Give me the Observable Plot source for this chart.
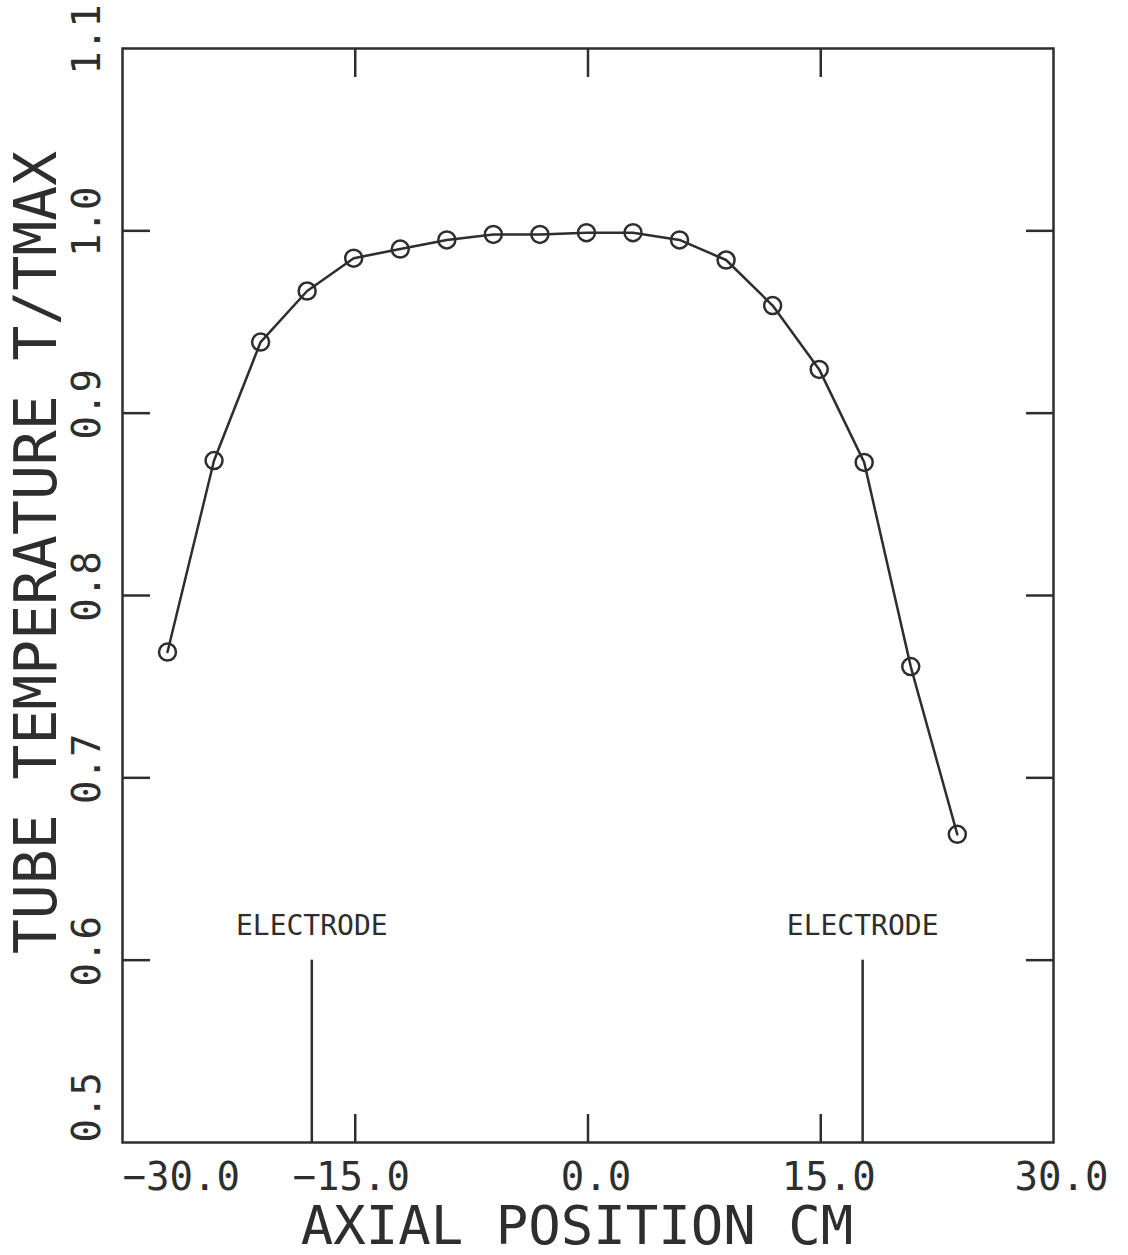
<!DOCTYPE html>
<html>
<head>
<meta charset="utf-8">
<script src="https://cdn.jsdelivr.net/npm/d3@7"></script>
<script src="https://cdn.jsdelivr.net/npm/@observablehq/plot@0.6"></script>
<style>
  html, body { margin: 0; padding: 0; background: #ffffff; }
  #chart svg { display: block; }
</style>
</head>
<body>
<div id="chart"></div>
<script>
// ---- data ----
const axialPos = [-27.1, -24.1, -21.1, -18.1, -15.1, -12.1, -9.1, -6.1, -3.1, -0.1, 2.9, 5.9, 8.9, 11.9, 14.9, 17.8, 20.8, 23.8];
const tubeTemp = [0.769, 0.874, 0.939, 0.967, 0.985, 0.990, 0.995, 0.998, 0.998, 0.999, 0.999, 0.995, 0.984, 0.959, 0.924, 0.873, 0.761, 0.669];
const xTickValues = [-30, -15, 0, 15, 30];
const yTickValues = [0.5, 0.6, 0.7, 0.8, 0.9, 1.0, 1.1];
const electrodePos = [-17.8, 17.7];
const electrodeBottom = 0.5;
const electrodeTop = 0.6;
const electrodeLabel = "ELECTRODE";
const xTitle = "AXIAL POSITION CM";
const yTitle = "TUBE TEMPERATURE T/TMAX";

const points = axialPos.map((x, i) => ({x, y: tubeTemp[i]}));
const electrodes = electrodePos.map(x => ({x, y1: electrodeBottom, y2: electrodeTop}));
const innerX = xTickValues.slice(1, -1);
const innerY = yTickValues.slice(1, -1);
const fmt = d => (d < 0 ? "\u2212" + Math.abs(d).toFixed(1) : d.toFixed(1));

const ink = "#2e2e2e";
const font = "DejaVu Sans Mono";
const sw = 2.5;

const chart = Plot.plot({
  width: 1128,
  height: 1255,
  marginTop: 48,
  marginRight: 75,
  marginBottom: 113,
  marginLeft: 122,
  x: {domain: [-30, 30], axis: null},
  y: {domain: [0.5, 1.1], axis: null},
  style: {fontFamily: font, color: ink, background: "#ffffff"},
  marks: [
    Plot.frame({stroke: ink, strokeWidth: sw}),
    // inward ticks on all four sides
    Plot.axisX(innerX, {anchor: "bottom", tickSize: -28, tickFormat: () => null, label: null, stroke: ink, strokeWidth: sw}),
    Plot.axisX(innerX, {anchor: "top", tickSize: -28, tickFormat: () => null, label: null, stroke: ink, strokeWidth: sw}),
    Plot.axisY(innerY, {anchor: "left", tickSize: -28, tickFormat: () => null, label: null, stroke: ink, strokeWidth: sw}),
    Plot.axisY(innerY, {anchor: "right", tickSize: -28, tickFormat: () => null, label: null, stroke: ink, strokeWidth: sw}),
    // x tick labels
    Plot.text(xTickValues.filter(v => v === -30), {x: d => d, text: fmt, frameAnchor: "bottom", dy: 35, textAnchor: "start", lineAnchor: "middle", fontSize: 39, fill: ink}),
    Plot.text(xTickValues.filter(v => v < 0 && v !== -30), {x: d => d, text: fmt, frameAnchor: "bottom", dy: 35, dx: -4, textAnchor: "middle", lineAnchor: "middle", fontSize: 39, fill: ink}),
    Plot.text(xTickValues.filter(v => v >= 0), {x: d => d, text: fmt, frameAnchor: "bottom", dy: 35, dx: 8, textAnchor: "middle", lineAnchor: "middle", fontSize: 39, fill: ink}),
    // y tick labels (rotated)
    Plot.text(yTickValues.filter(v => v === 0.5), {y: d => d, text: fmt, frameAnchor: "left", dx: -35, rotate: -90, textAnchor: "start", lineAnchor: "middle", fontSize: 39, fill: ink}),
    Plot.text(yTickValues.filter(v => v > 0.5), {y: d => d, text: fmt, frameAnchor: "left", dx: -35, dy: -9, rotate: -90, textAnchor: "middle", lineAnchor: "middle", fontSize: 39, fill: ink}),
    // axis titles
    Plot.text([xTitle], {text: d => d, frameAnchor: "bottom", dy: 84, dx: -11, textAnchor: "middle", lineAnchor: "middle", fontSize: 54, fill: ink}),
    Plot.text([yTitle], {text: d => d, frameAnchor: "left", dx: -85, dy: -43, rotate: -90, textAnchor: "middle", lineAnchor: "middle", fontSize: 58, fill: ink}),
    // electrodes
    Plot.ruleX(electrodes, {x: "x", y1: "y1", y2: "y2", stroke: ink, strokeWidth: sw}),
    Plot.text(electrodes, {x: "x", y: "y2", text: () => electrodeLabel, dy: -34, textAnchor: "middle", lineAnchor: "middle", fontSize: 28, fill: ink}),
    // data
    Plot.line(points, {x: "x", y: "y", stroke: ink, strokeWidth: sw}),
    Plot.dot(points, {x: "x", y: "y", r: 8.5, stroke: ink, strokeWidth: sw, fill: "none"})
  ]
});
document.getElementById("chart").appendChild(chart);
</script>
</body>
</html>
